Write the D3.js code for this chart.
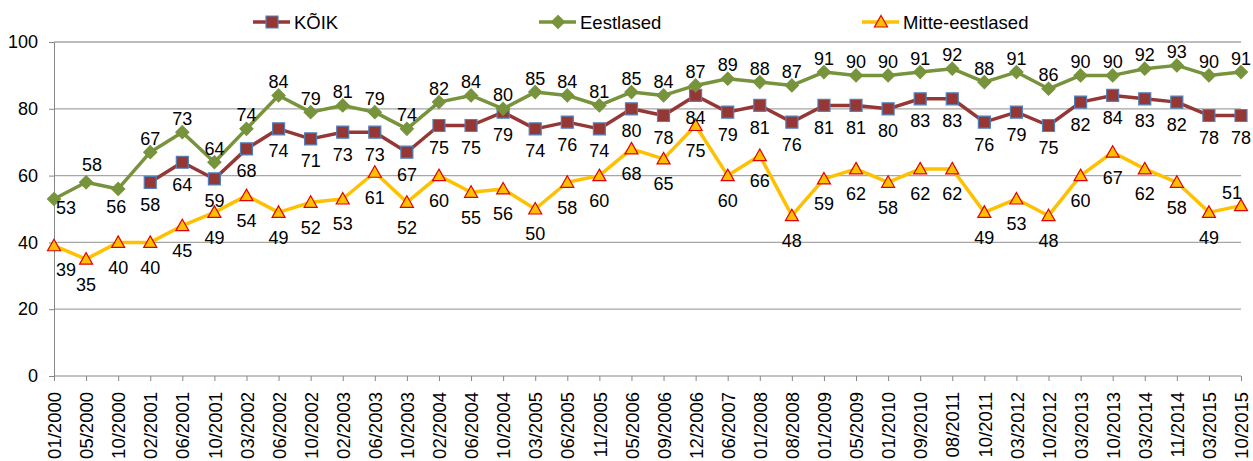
<!DOCTYPE html>
<head>
  <meta charset="utf-8">
  <script src="https://d3js.org/d3.v7.min.js"></script>
  <style>
    body { margin:0; background:#fff; }
    svg { display:block; font-family:"Liberation Sans", Arial, sans-serif; }
    .axis path, .axis line { stroke:#868686; }
    .axis text { fill:#000; }
  </style>
</head>
<body>
<div id="chart"></div>
<script>

var categories = ["01/2000","05/2000","10/2000","02/2001","06/2001","10/2001","03/2002","06/2002","10/2002",
  "02/2003","06/2003","10/2003","02/2004","06/2004","10/2004","03/2005","06/2005","11/2005","05/2006",
  "09/2006","12/2006","06/2007","01/2008","08/2008","01/2009","05/2009","01/2010","09/2010","08/2011",
  "10/2011","03/2012","10/2012","03/2013","10/2013","03/2014","11/2014","03/2015","10/2015"];

var koik = [null,null,null,58,64,59,68,74,71,73,73,67,75,75,79,74,76,74,80,78,84,79,81,76,81,81,80,83,83,76,79,75,82,84,83,82,78,78];
var eestlased = [53,58,56,67,73,64,74,84,79,81,79,74,82,84,80,85,84,81,85,84,87,89,88,87,91,90,90,91,92,88,91,86,90,90,92,93,90,91];
var mitteEestlased = [39,35,40,40,45,49,54,49,52,53,61,52,60,55,56,50,58,60,68,65,75,60,66,48,59,62,58,62,62,49,53,48,60,67,62,58,49,51];

var yTicks = [0,20,40,60,80,100];

var width = 1253, height = 461;
var plotLeft = 54, plotRight = 1241, plotTop = 42, plotBottom = 376;

var x = d3.scalePoint().domain(categories).range([plotLeft, plotRight]);
var y = d3.scaleLinear().domain([0, 100]).range([plotBottom, plotTop]);

var svg = d3.select("#chart").append("svg")
  .attr("width", width).attr("height", height);

// gridlines
svg.append("g").selectAll("line")
  .data(yTicks.filter(function(d){ return d > 0; }))
  .enter().append("line")
    .attr("x1", plotLeft).attr("x2", plotRight)
    .attr("y1", function(d){ return y(d); })
    .attr("y2", function(d){ return y(d); })
    .style("stroke", "#a6a6a6").style("stroke-width", 1.3);

// y axis
var yAxis = svg.append("g").attr("class", "axis")
  .attr("transform", "translate(" + plotLeft + ",0)")
  .call(d3.axisLeft(y).tickValues(yTicks).tickSize(5).tickPadding(11).tickSizeOuter(0));
yAxis.selectAll("text").style("font-size", "18px");

// x axis
var xAxis = svg.append("g").attr("class", "axis")
  .attr("transform", "translate(0," + plotBottom + ")")
  .call(d3.axisBottom(x).tickSize(5).tickSizeOuter(0));
xAxis.select(".domain").attr("d", "M" + plotLeft + ",0H" + plotRight);
xAxis.selectAll("text")
  .style("font-size", "18.5px")
  .attr("text-anchor", "end")
  .attr("transform", "rotate(-90)")
  .attr("x", -16).attr("y", 0).attr("dy", "0.36em");

// label offsets: default dy per series, a few labels placed elsewhere
var series = [
  { name: "KÕIK", values: koik, color: "#953735", marker: "square",
    fill: "#953735", stroke: "#4f81bd", dy: 22, special: {} },
  { name: "Eestlased", values: eestlased, color: "#77933c", marker: "diamond",
    fill: "#77933c", stroke: "#77933c", dy: -14, special: { 0: [12, 9], 1: [6, -18], 2: [-2, 18] } },
  { name: "Mitte-eestlased", values: mitteEestlased, color: "#ffc000", marker: "triangle",
    fill: "#ffc000", stroke: "#e00000", dy: 25, special: { 0: [12, 24], 37: [-9, -13] } }
];

function markerPath(type) {
  if (type == "square") return "M-6,-6H6V6H-6Z";
  if (type == "diamond") return "M0,-6.5L6.5,0L0,6.5L-6.5,0Z";
  return "M0,-6.5L6.5,5L-6.5,5Z";
}

var line = d3.line()
  .defined(function(d){ return d != null; })
  .x(function(d, i){ return x(categories[i]); })
  .y(function(d){ return y(d); });

series.forEach(function(s) {
  svg.append("path")
    .attr("d", line(s.values))
    .style("fill", "none")
    .style("stroke", s.color)
    .style("stroke-width", 3.5)
    .style("stroke-linejoin", "round");

  svg.append("g").selectAll("path")
    .data(s.values.map(function(v, i){ return {v: v, i: i}; }).filter(function(d){ return d.v != null; }))
    .enter().append("path")
      .attr("d", markerPath(s.marker))
      .attr("transform", function(d){ return "translate(" + x(categories[d.i]) + "," + y(d.v) + ")"; })
      .style("fill", s.fill)
      .style("stroke", s.stroke)
      .style("stroke-width", 1.2);
});

// data labels on top
series.forEach(function(s) {
  svg.append("g").selectAll("text")
    .data(s.values.map(function(v, i){ return {v: v, i: i}; }).filter(function(d){ return d.v != null; }))
    .enter().append("text")
      .attr("x", function(d){ var o = s.special[d.i]; return x(categories[d.i]) + (o ? o[0] : 0); })
      .attr("y", function(d){ var o = s.special[d.i]; return y(d.v) + (o ? o[1] : s.dy); })
      .attr("dy", "0.36em")
      .attr("text-anchor", "middle")
      .style("font-size", "18px")
      .text(function(d){ return d.v; });
});

// legend
var legendX = [253, 539, 862];
series.forEach(function(s, k) {
  var g = svg.append("g").attr("transform", "translate(" + legendX[k] + ",22)");
  g.append("line").attr("x1", 0).attr("x2", 37)
    .style("stroke", s.color).style("stroke-width", 3.5);
  g.append("path").attr("d", markerPath(s.marker))
    .attr("transform", "translate(19,0)")
    .style("fill", s.fill).style("stroke", s.stroke).style("stroke-width", 1.2);
  g.append("text").attr("x", 41).attr("dy", "0.36em")
    .style("font-size", "18.5px")
    .text(s.name);
});

</script>
</body>
